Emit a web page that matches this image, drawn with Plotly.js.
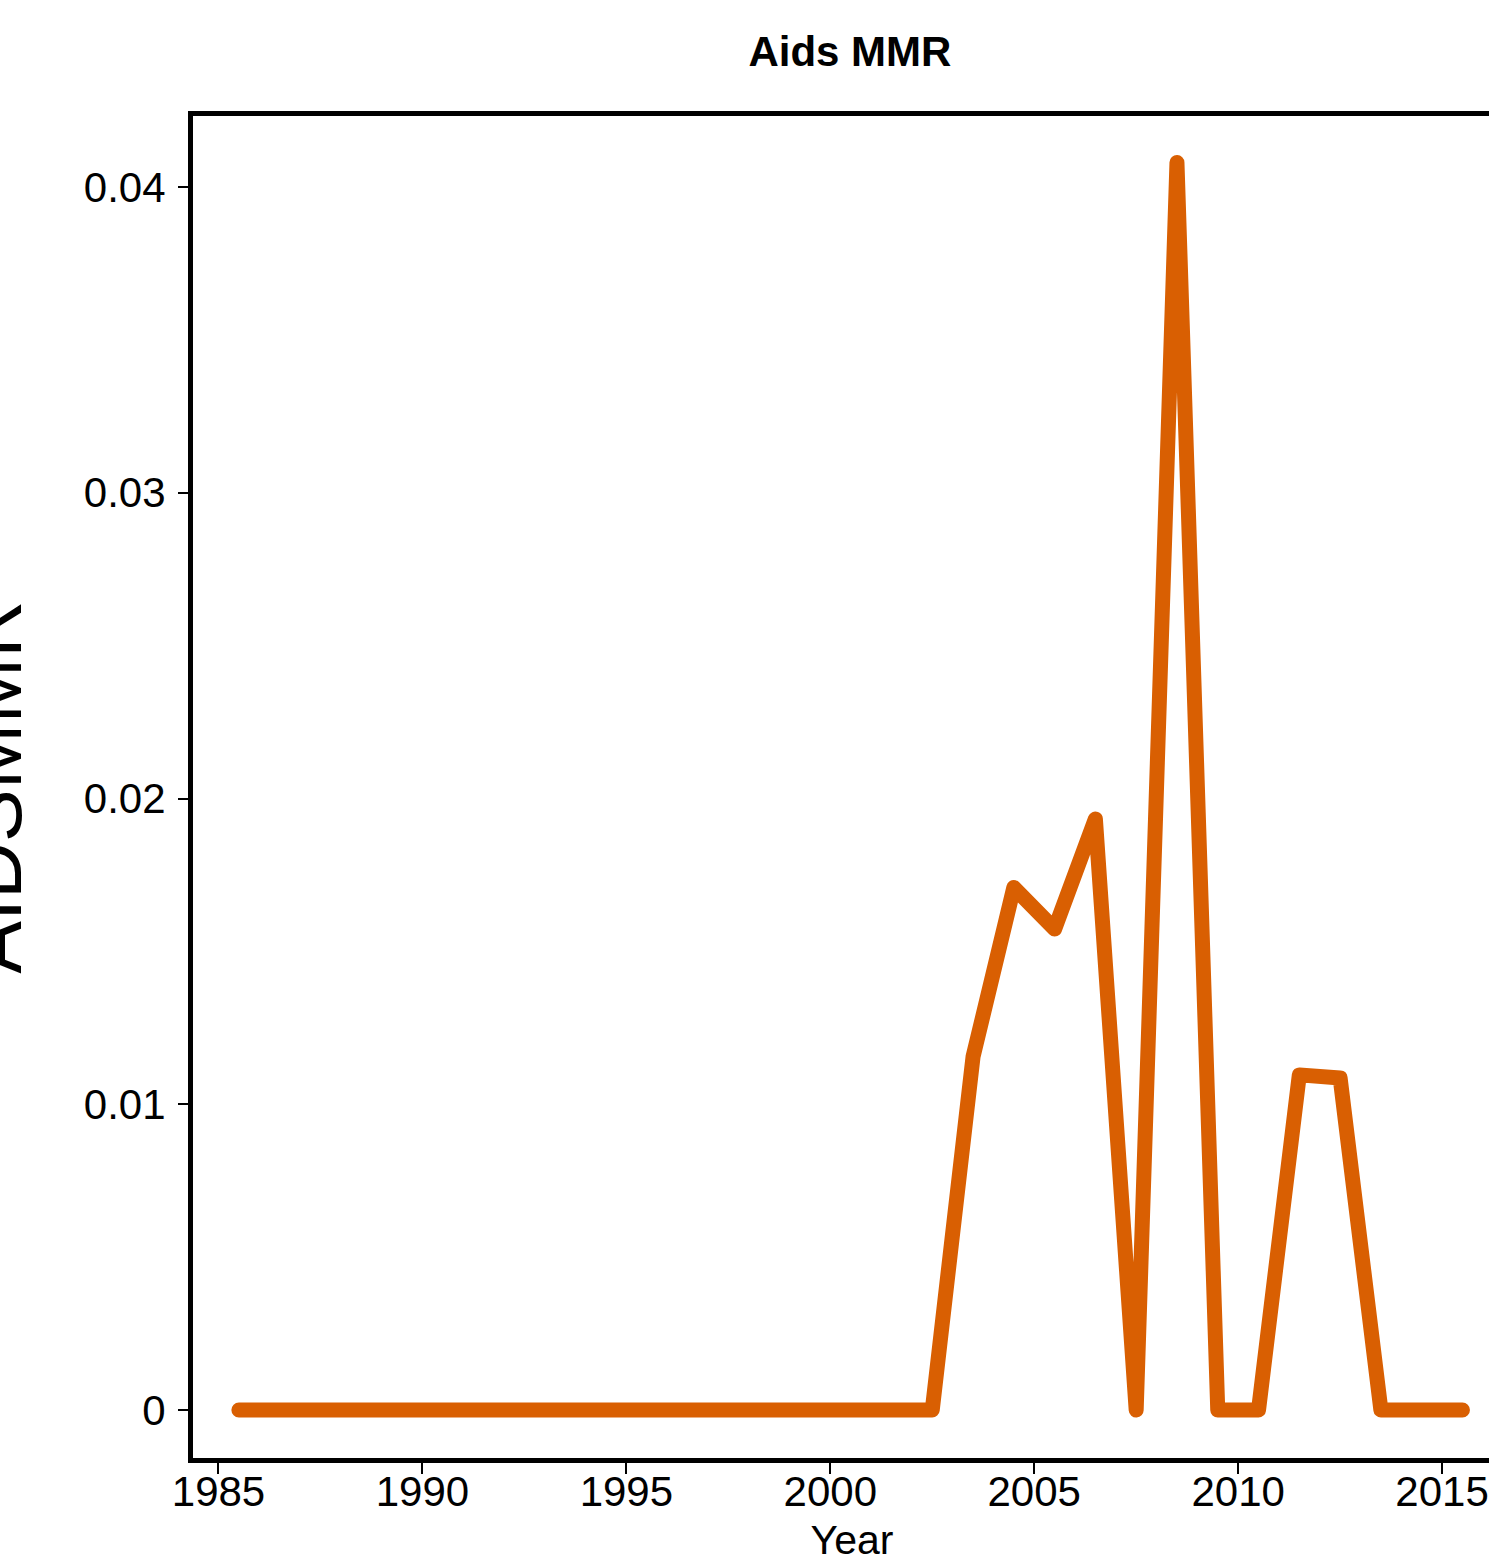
<!DOCTYPE html>
<html>
<head>
<meta charset="utf-8">
<script src="https://cdn.plot.ly/plotly-3.0.1.min.js"></script>
<style>
html, body { margin: 0; padding: 0; overflow: hidden; background: #fff; }
#chart { width: 1511px; height: 1563px; }
.js-line { stroke-linejoin: round !important; stroke-linecap: round !important; }
</style>
</head>
<body>
<div id="chart"></div>
<script>
// Data (x positions are mid-year, as drawn in the reference)
const years = [1985.5, 1986.5, 1987.5, 1988.5, 1989.5, 1990.5, 1991.5, 1992.5, 1993.5, 1994.5,
               1995.5, 1996.5, 1997.5, 1998.5, 1999.5, 2000.5, 2001.5, 2002.5, 2003.5, 2004.5,
               2005.5, 2006.5, 2007.5, 2008.5, 2009.5, 2010.5, 2011.5, 2012.5, 2013.5, 2014.5, 2015.5];
const aidsMMR = [0, 0, 0, 0, 0, 0, 0, 0, 0, 0,
                 0, 0, 0, 0, 0, 0, 0, 0, 0.01155, 0.01709,
                 0.01573, 0.01933, 0, 0.0408, 0, 0, 0.01096, 0.01086, 0, 0, 0];
const xTicks = [1985, 1990, 1995, 2000, 2005, 2010, 2015];
const yTicks = [0, 0.01, 0.02, 0.03, 0.04];
const yTickLabels = ['0', '0.01', '0.02', '0.03', '0.04'];

const font = 'Liberation Sans, Arial, sans-serif';

const trace = {
  x: years,
  y: aidsMMR,
  type: 'scatter',
  mode: 'lines',
  line: { color: '#D95F02', width: 15 },
  hoverinfo: 'skip'
};

const layout = {
  width: 1511,
  height: 1563,
  paper_bgcolor: '#ffffff',
  plot_bgcolor: '#ffffff',
  showlegend: false,
  margin: { l: 193, r: 0, t: 116, b: 105 },
  font: { family: font, color: '#000', size: 36 },
  title: {
    text: '<b>Aids MMR</b>',
    font: { family: font, size: 42, color: '#000' },
    x: 0.5625, xref: 'container', xanchor: 'center',
    y: 1 - 51 / 1563, yref: 'container', yanchor: 'middle'
  },
  xaxis: {
    range: [1984.375, 2016.69],
    tickmode: 'array',
    tickvals: xTicks,
    ticktext: xTicks.map(String),
    ticks: 'outside', ticklen: 11, tickwidth: 2, tickcolor: '#000',
    tickfont: { family: font, size: 42, color: '#000' },
    ticklabelstandoff: -18,
    showgrid: false, zeroline: false,
    showline: true, linewidth: 5, linecolor: '#000', mirror: true,
    title: { text: 'Year', font: { family: font, size: 41, color: '#000' }, standoff: 14 }
  },
  yaxis: {
    range: [-0.00157, 0.042322],
    tickmode: 'array',
    tickvals: yTicks,
    ticktext: yTickLabels,
    ticks: 'outside', ticklen: 10, tickwidth: 2, tickcolor: '#000',
    tickfont: { family: font, size: 42, color: '#000' },
    showgrid: false, zeroline: false,
    showline: true, linewidth: 5, linecolor: '#000',
    ticklabelstandoff: 4,
    title: { text: '' }
  },
  annotations: [{
    text: 'AIDSMMR',
    xref: 'paper', yref: 'paper',
    x: -0.152, y: 0.5,
    xanchor: 'center', yanchor: 'middle',
    textangle: -90,
    showarrow: false,
    font: { family: font, size: 79, color: '#000' }
  }]
};

Plotly.newPlot('chart', [trace], layout, { staticPlot: true, displayModeBar: false });
</script>
</body>
</html>
